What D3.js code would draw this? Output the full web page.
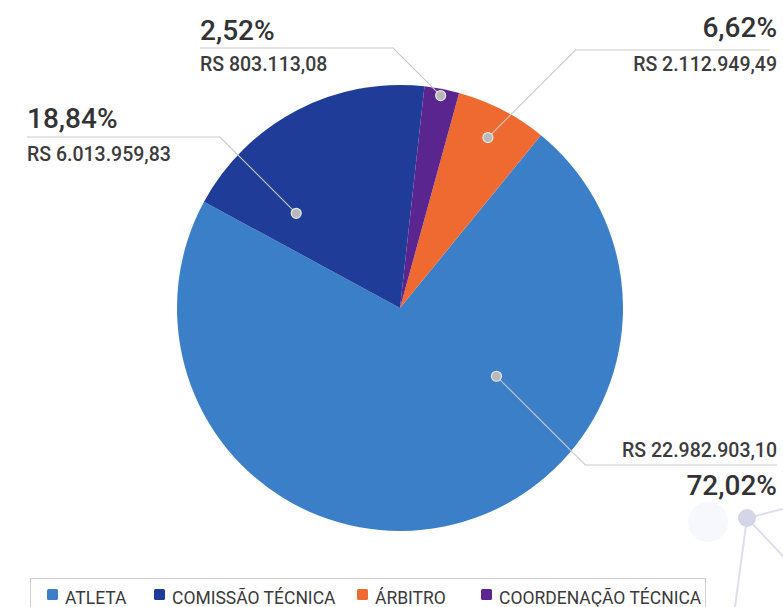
<!DOCTYPE html>
<html lang="pt-BR">
<head>
<meta charset="utf-8">
<title>Distribuição de recursos por função</title>
<script src="https://cdn.jsdelivr.net/npm/d3@7"></script>
<style>
  html, body { margin: 0; padding: 0; background: #ffffff; }
  svg { display: block; font-family: Roboto, "Open Sans", sans-serif; }
</style>
</head>
<body>
<svg id="chart" width="783" height="607"></svg>
<script>
// Categories in legend order
const categories = ["ATLETA", "COMISSÃO TÉCNICA", "ÁRBITRO", "COORDENAÇÃO TÉCNICA"];
// Share of the total, percent
const percents = [72.02, 18.84, 6.62, 2.52];
// Amounts as printed
const amounts = ["RS 22.982.903,10", "RS 6.013.959,83", "RS 2.112.949,49", "RS 803.113,08"];
// Clockwise drawing order of the slices, starting just right of twelve o'clock
const sliceOrder = ["COORDENAÇÃO TÉCNICA", "ÁRBITRO", "ATLETA", "COMISSÃO TÉCNICA"];

const colors = {
  "ATLETA": "#3b7fc9",
  "COMISSÃO TÉCNICA": "#1f3c98",
  "ÁRBITRO": "#ee6a30",
  "COORDENAÇÃO TÉCNICA": "#5b2590"
};

// Callout layout: where the marker sits inside its slice (fraction of the
// slice's angle, fraction of the radius) and where the leader and text go.
const callouts = {
  "ATLETA":              { t: 0.332, rf: 0.53, elbowY: 465, endX: 777, anchor: "end",   textX: 777, pctDy: 30,  amtDy: -8 },
  "COMISSÃO TÉCNICA":    { t: 0.205, rf: 0.63, elbowY: 137, endX: 27,  anchor: "start", textX: 27,  pctDy: -9,  amtDy: 24 },
  "ÁRBITRO":             { t: 0.5,   rf: 0.86, elbowY: 50,  endX: 770, anchor: "end",   textX: 777, pctDy: -13, amtDy: 21 },
  "COORDENAÇÃO TÉCNICA": { t: 0.5,   rf: 0.97, elbowY: 48,  endX: 200, anchor: "start", textX: 200, pctDy: -8,  amtDy: 23 }
};

const data = categories.map((name, i) => ({ name, pct: percents[i], amount: amounts[i] }));

const svg = d3.select("#chart");
const cx = 400, cy = 308, radius = 223;
const startDeg = 6.3;

// Faint network decoration in the lower right corner
const deco = svg.append("g").attr("class", "decoration");
const hub = { x: 747, y: 518 };
const spokes = [[783, 509], [735, 607], [783, 556]];
deco.append("circle").attr("cx", 708).attr("cy", 522).attr("r", 20)
  .attr("fill", "#f2f4fb").attr("opacity", 0.6);
deco.selectAll("line").data(spokes).join("line")
  .attr("x1", hub.x).attr("y1", hub.y)
  .attr("x2", d => d[0]).attr("y2", d => d[1])
  .attr("stroke", "#dedeee").attr("stroke-width", 2);
deco.append("circle").attr("cx", hub.x).attr("cy", hub.y).attr("r", 9)
  .attr("fill", "#d5d5ea");

// Pie
const pie = d3.pie()
  .value(d => d.pct)
  .sort((a, b) => sliceOrder.indexOf(a.name) - sliceOrder.indexOf(b.name))
  .startAngle(startDeg * Math.PI / 180)
  .endAngle((startDeg + 360) * Math.PI / 180);

const arcs = pie(data);
const arc = d3.arc().innerRadius(0).outerRadius(radius);

const g = svg.append("g").attr("transform", `translate(${cx},${cy})`);
g.selectAll("path.slice").data(arcs).join("path")
  .attr("class", "slice")
  .attr("d", arc)
  .attr("fill", d => colors[d.data.name]);

// Callouts: marker, leader line and the two text lines
function markerPoint(d) {
  const c = callouts[d.data.name];
  const a = d.startAngle + (d.endAngle - d.startAngle) * c.t;
  const r = radius * c.rf;
  return [cx + r * Math.sin(a), cy - r * Math.cos(a)];
}

const labels = svg.append("g").attr("class", "callouts");

arcs.forEach(d => {
  const c = callouts[d.data.name];
  const [mx, my] = markerPoint(d);
  const dy = c.elbowY - my;
  const dir = c.endX > mx ? 1 : -1;
  const ex = mx + dir * Math.abs(dy);
  labels.append("path")
    .attr("d", d3.line()([[mx, my], [ex, c.elbowY], [c.endX, c.elbowY]]))
    .attr("fill", "none")
    .attr("stroke", "#c9c9c9")
    .attr("stroke-width", 1.1);
  labels.append("circle")
    .attr("cx", mx).attr("cy", my).attr("r", 5)
    .attr("fill", "#b9b9bb")
    .attr("stroke", "#e6e6e6").attr("stroke-width", 1.2);

  labels.append("text")
    .attr("x", c.textX).attr("y", c.elbowY + c.pctDy)
    .attr("text-anchor", c.anchor)
    .attr("font-size", 28).attr("font-weight", 500)
    .attr("fill", "#333333")
    .text(d3.format(".2f")(d.data.pct).replace(".", ",") + "%");

  labels.append("text")
    .attr("x", c.textX).attr("y", c.elbowY + c.amtDy)
    .attr("text-anchor", c.anchor)
    .attr("font-size", 19.5).attr("font-weight", 500)
    .attr("fill", "#3c3c3c")
    .text(d.data.amount);
});

// Legend
const legend = svg.append("g").attr("class", "legend");
legend.append("rect")
  .attr("x", 30.5).attr("y", 578.5).attr("width", 675).attr("height", 40)
  .attr("fill", "#ffffff").attr("stroke", "#cfcfcf").attr("stroke-width", 1);

const legendX = [47, 154, 357, 481];
const items = legend.selectAll("g.item").data(categories).join("g")
  .attr("class", "item")
  .attr("transform", (d, i) => `translate(${legendX[i]},0)`);
items.append("rect")
  .attr("x", 0).attr("y", 589).attr("width", 11).attr("height", 11).attr("rx", 1.5)
  .attr("fill", d => colors[d]);
items.append("text")
  .attr("x", 18).attr("y", 603.5)
  .attr("font-size", 17.5).attr("fill", "#3a3a3a")
  .text(d => d);
</script>
</body>
</html>
